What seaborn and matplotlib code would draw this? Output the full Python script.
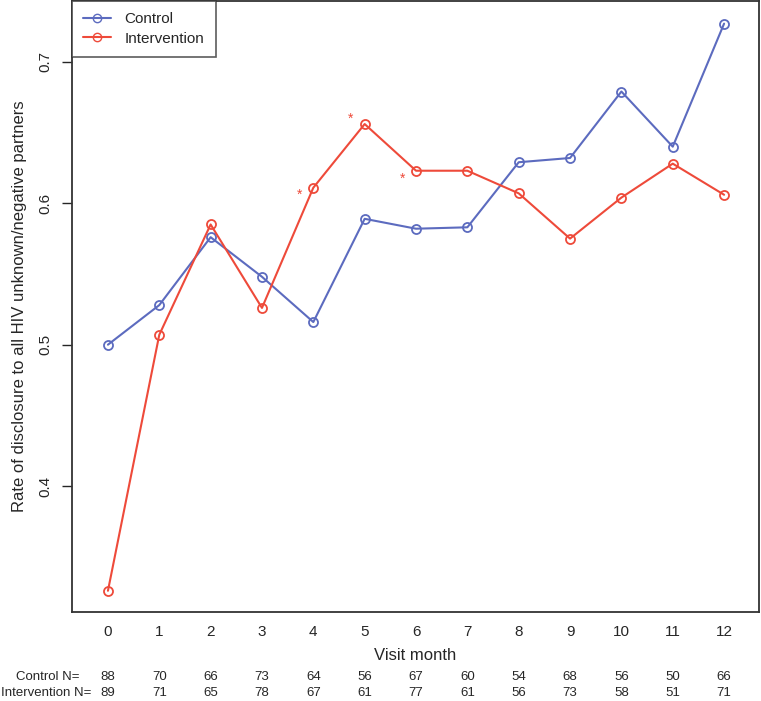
import matplotlib
matplotlib.use("Agg")
import matplotlib.pyplot as plt
import seaborn as sns
import pandas as pd
from matplotlib.lines import Line2D

months = list(range(13))
control = [0.500, 0.528, 0.576, 0.548, 0.516, 0.589, 0.582, 0.583, 0.629, 0.632, 0.679, 0.640, 0.727]
intervention = [0.326, 0.507, 0.585, 0.526, 0.611, 0.656, 0.623, 0.623, 0.607, 0.575, 0.604, 0.628, 0.606]
control_n = [88, 70, 66, 73, 64, 56, 67, 60, 54, 68, 56, 50, 66]
intervention_n = [89, 71, 65, 78, 67, 61, 77, 61, 56, 73, 58, 51, 71]
star_months = [4, 5, 6]
star_offsets = [(-10, -5), (-10, 4), (-10, -6)]
yticks = [0.4, 0.5, 0.6, 0.7]

sns.set_style("white")
plt.rcParams['font.family'] = ['Liberation Sans', 'DejaVu Sans']

df = pd.DataFrame({
    "month": months * 2,
    "rate": control + intervention,
    "group": ["Control"] * 13 + ["Intervention"] * 13,
})

blue = "#5c6bbf"
red = "#ee4a3a"

fig = plt.figure(figsize=(7.61, 7.01), dpi=100)
ax = fig.add_axes([72/761, 1 - 612/701, (759-72)/761, (612-1)/701])

sns.lineplot(data=df, x="month", y="rate", hue="group", palette=[blue, red],
             marker="o", markersize=6.5, markerfacecolor="none", markeredgewidth=1.3,
             linewidth=1.5, ax=ax, legend=False)
for line, c in zip(ax.lines, [blue, red]):
    line.set_markeredgecolor(c)

for m, off in zip(star_months, star_offsets):
    ax.annotate("*", xy=(m, intervention[m]), xytext=off, textcoords="offset points",
                ha="center", va="center", color=red, fontsize=10)

ax.set_xlim(-0.70, 12.68)
ax.set_ylim(0.311, 0.743)
ax.set_xticks(months)
ax.set_xticklabels([str(m) for m in months], fontsize=11)
ax.set_yticks(yticks)
ax.set_yticklabels([str(t) for t in yticks], fontsize=11, rotation=90, va="center")
ax.tick_params(axis="x", length=0, pad=9)
ax.tick_params(axis="y", left=True, length=7, width=1, direction="out", pad=7)
for s in ax.spines.values():
    s.set_color("#333333")
    s.set_linewidth(1.3)
ax.set_xlabel("Visit month", fontsize=12, labelpad=7)
ax.set_ylabel("Rate of disclosure to all HIV unknown/negative partners", fontsize=12, labelpad=8)

handles = [Line2D([0], [0], color=blue, marker="o", markerfacecolor="none", markersize=6, lw=1.5),
           Line2D([0], [0], color=red, marker="o", markerfacecolor="none", markersize=6, lw=1.5)]
leg = ax.legend(handles, ["Control", "Intervention"], loc="upper left", bbox_to_anchor=(0, 1.0),
                frameon=True, fancybox=False, fontsize=11, borderaxespad=0, handlelength=1.8,
                handletextpad=0.9, borderpad=0.75, labelspacing=0.35)
leg.get_frame().set_edgecolor("#333333")
leg.get_frame().set_linewidth(1.2)

trans = ax.get_xaxis_transform()
yc = -(677 - 612) / 611
yi = -(693 - 612) / 611
for m, cn, inn in zip(months, control_n, intervention_n):
    ax.text(m, yc, str(cn), transform=trans, ha="center", va="center", fontsize=9.5)
    ax.text(m, yi, str(inn), transform=trans, ha="center", va="center", fontsize=9.5)
fig.text(79/761, 1 - 677/701, "Control N=", ha="right", va="center", fontsize=9.5)
fig.text(1/761, 1 - 693/701, "Intervention N=", ha="left", va="center", fontsize=9.5)

fig.savefig("out.png", dpi=100)
